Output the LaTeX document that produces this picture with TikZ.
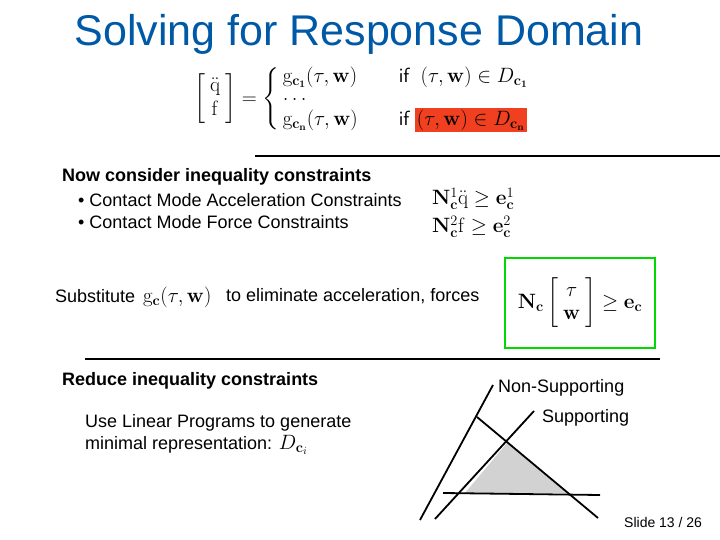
\documentclass[tikz,border=0pt]{standalone}
\usepackage{amsmath}
\usepackage[no-math]{fontspec}
\setmainfont{Liberation Sans}
\definecolor{hl}{RGB}{240,64,32}
\begin{document}
\begin{tikzpicture}[x=1pt,y=-1pt,
  txt/.style={anchor=west,inner sep=0pt,font=\fontsize{18}{21}\selectfont},
  ln/.style={line width=1.8pt},
  mth/.style={inner sep=0pt,font=\fontsize{21}{24}\selectfont}]
\useasboundingbox (0,0) rectangle (720,540);
\node[inner sep=0pt,text=teal!70!blue,font=\fontsize{43}{50}\selectfont] (title) at (359,34) {Solving for Response Domain};
\node[inner sep=0pt,anchor=west,font=\fontsize{20.5}{24}\selectfont] (eq) at (194,99) {$\left[\begin{array}{c}\ddot{\mathrm q}\\ \mathrm f\end{array}\right]=\left\{\begin{array}{@{\,}l@{\qquad}l@{}}\mathrm{g}_{\mathbf{c_1}}(\tau,\mathbf w) & \textsf{if}\ \ (\tau,\mathbf w)\in D_{\mathbf{c_1}}\\[-6pt] \ldots & \\ \mathrm{g}_{\mathbf{c_n}}(\tau,\mathbf w) & \textsf{if}\ \setlength{\fboxsep}{2pt}\colorbox{hl}{$(\tau,\mathbf w)\in D_{\mathbf{c_n}}$}\end{array}\right.$};
\draw[line width=1.8pt] (255,156) coordinate (r1a) -- (720,156) coordinate (r1b);
\node[txt,font=\bfseries\fontsize{18}{21}\selectfont] (t1) at (62,177) {Now consider inequality constraints};
\node[txt] (t2) at (78,200) {\textbullet\ Contact Mode Acceleration Constraints};
\node[txt] (t3) at (78,222) {\textbullet\ Contact Mode Force Constraints};
\node[mth,anchor=west] (m1) at (432,199) {$\mathbf{N}^1_{\mathbf c}\ddot{\mathrm q}\geq \mathbf{e}^1_{\mathbf c}$};
\node[mth,anchor=west] (m2) at (432,227) {$\mathbf{N}^2_{\mathbf c}\mathrm{f}\geq \mathbf{e}^2_{\mathbf c}$};
\node[txt] (t4) at (55,296) {Substitute};
\node[mth,anchor=west,font=\fontsize{22}{25}\selectfont] (m3) at (143,297) {$\mathrm{g}_{\mathbf c}(\tau,\mathbf w)$};
\node[txt] (t5) at (226,296) {to eliminate acceleration, forces};
\draw[green!85!black,line width=2.5pt] (505,258) rectangle (655,348);
\node[mth,font=\fontsize{20}{23}\selectfont] (m4) at (580,303) {$\mathbf N_{\mathbf c}\left[\begin{array}{c}\tau\\ \mathbf w\end{array}\right]\geq\mathbf e_{\mathbf c}$};
\draw[line width=1.8pt] (85,359) coordinate (r2a) -- (660,359) coordinate (r2b);
\node[txt,font=\bfseries\fontsize{18}{21}\selectfont] (t6) at (62,381) {Reduce inequality constraints};
\node[txt] (t7) at (85,423) {Use Linear Programs to generate};
\node[txt] (t8) at (85,445) {minimal representation: \fontsize{21}{24}\selectfont$D_{\mathbf c_i}$};
\node[txt] (ns) at (498,388) {Non-Supporting};
\node[txt] (s) at (542,418) {Supporting};
\fill[gray!35] (507,443) -- (465,493) -- (567,493) -- cycle;
\draw[ln] (420,520) -- (493,385);
\draw[ln] (435,519) -- (534,411);
\draw[ln] (477,417) -- (598,518);
\draw[ln] (443,493) -- (600,495);
\node[txt,font=\fontsize{14}{16}\selectfont] (sl) at (624,522) {Slide 13 / 26};
\end{tikzpicture}
\end{document}
